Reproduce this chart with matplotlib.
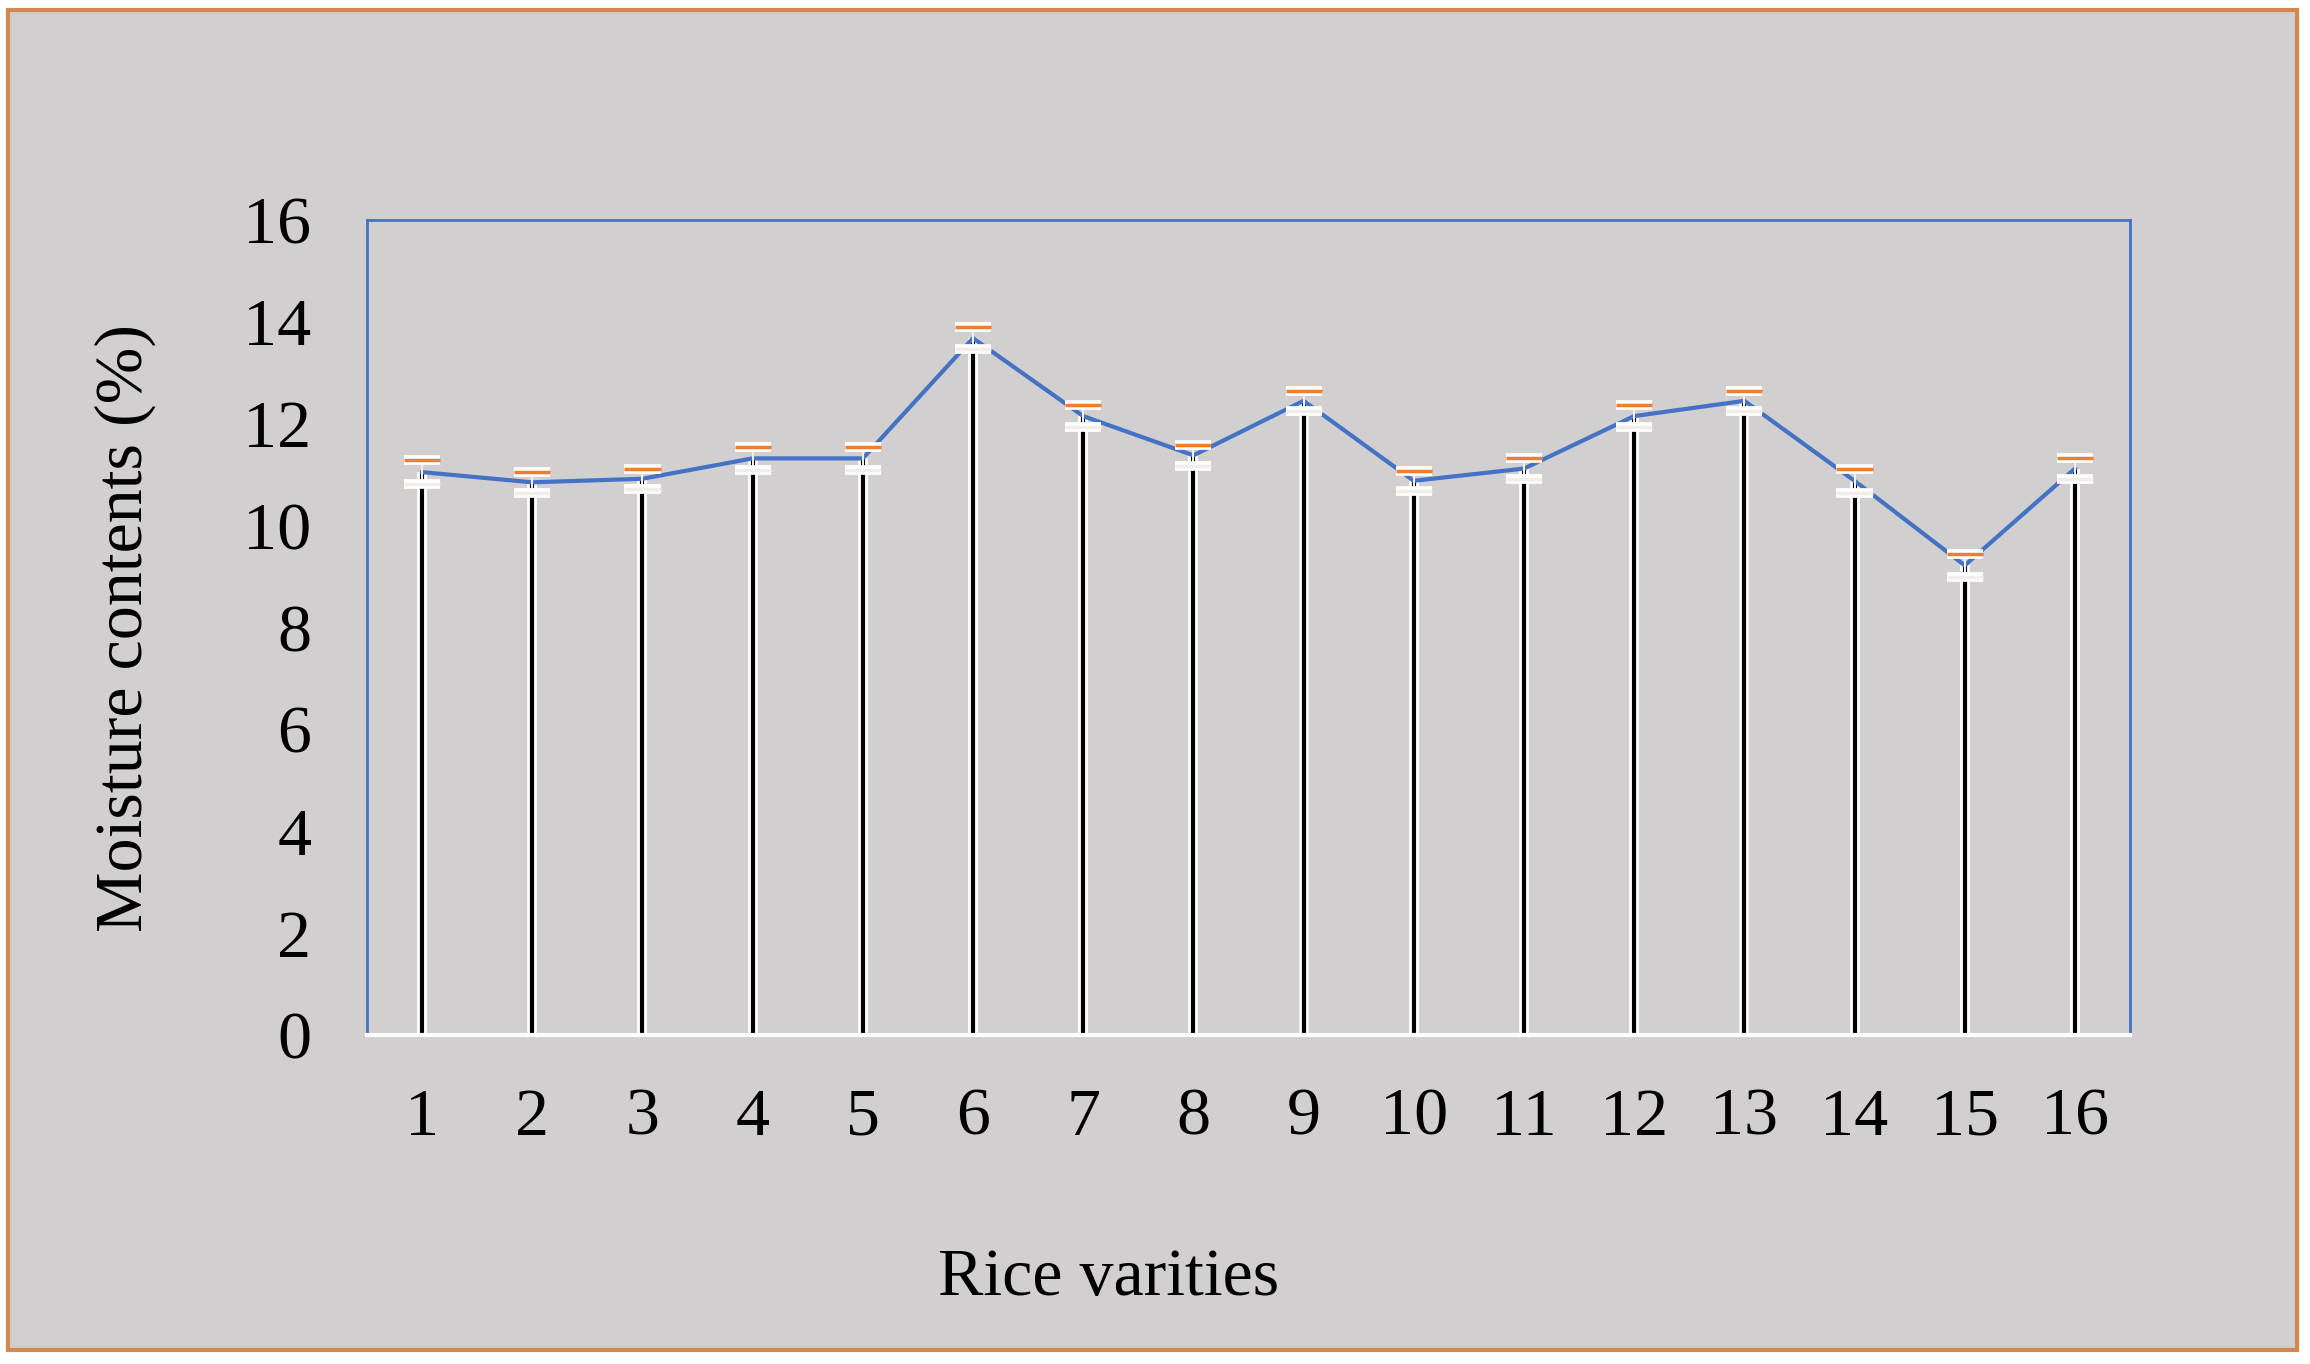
import matplotlib
matplotlib.use("Agg")
import numpy as np
from matplotlib import pyplot as plt
from matplotlib import patheffects as pe
from matplotlib.patches import Rectangle

varieties = list(range(1, 17))
moisture = [11.05, 10.85, 10.92, 11.32, 11.32, 13.68, 12.15, 11.38, 12.45,
            10.88, 11.12, 12.15, 12.45, 10.88, 9.22, 11.12]
moisture_err = [0.24, 0.2, 0.2, 0.22, 0.22, 0.22, 0.22, 0.2, 0.2,
                0.2, 0.2, 0.22, 0.2, 0.24, 0.22, 0.2]
y_ticks = [0, 2, 4, 6, 8, 10, 12, 14, 16]

grey = '#d1cfcf'
blue = '#4472c4'
orange = '#ed7d31'
serif = ['Liberation Serif', 'DejaVu Serif']
fs = 49

fig = plt.figure(figsize=(23.1, 13.64), dpi=100, facecolor='white')
# outer frame of the chart area
fig.patches.append(Rectangle((8 / 2310, 14 / 1364), 2289 / 2310, 1340 / 1364,
                             transform=fig.transFigure, facecolor=grey,
                             edgecolor='#d4874f', linewidth=3, zorder=-1))

ax = fig.add_axes([367 / 2310, 1 - 1035 / 1364, 1763 / 2310, 815 / 1364])
ax.set_zorder(1)
ax.set_facecolor(grey)

x = np.array(varieties)
glow = [pe.Stroke(linewidth=7, foreground='white'), pe.Normal()]
stems = ax.vlines(x, 0, moisture, color='black', linewidth=3, zorder=2)
stems.set_path_effects(glow)
ax.plot(x, moisture, color=blue, linewidth=3, zorder=3)
eb = ax.errorbar(x, moisture, yerr=moisture_err, fmt='none', ecolor='#f4eee9',
                 elinewidth=1.5, capsize=13, capthick=2.5, zorder=4)
lower_caps, upper_caps = eb[1]
lower_caps.set_markeredgecolor('#f4ece6')
upper_caps.set_markeredgecolor(orange)
for cap in eb[1]:
    cap.set_path_effects([pe.Stroke(linewidth=7, foreground='white'), pe.Normal()])

ax.set_xlim(0.5, 16.5)
ax.set_ylim(0, 16)
ax.set_xticks(x)
ax.set_xticklabels([str(v) for v in varieties])
ax.set_yticks(y_ticks)
ax.tick_params(axis='both', length=0, labelsize=fs)
ax.tick_params(axis='y', pad=40)
ax.tick_params(axis='x', pad=38)
for lab in ax.get_xticklabels() + ax.get_yticklabels():
    lab.set_family(serif)

for side in ['left', 'top', 'right']:
    ax.spines[side].set_color(blue)
    ax.spines[side].set_linewidth(2)
ax.spines['bottom'].set_color('white')
ax.spines['bottom'].set_linewidth(3)

ax.set_xlabel('Rice varities', fontsize=fs, family=serif)
ax.xaxis.set_label_coords((1109 - 367) / 1763, (1035 - 1279) / 815)
ax.xaxis.label.set_va('center')
ax.set_ylabel('Moisture contents (%)', fontsize=fs, family=serif)
ax.yaxis.set_label_coords((125 - 367) / 1763, 0.5)
ax.yaxis.label.set_va('center')

fig.savefig('out.png', dpi=100, facecolor=fig.get_facecolor())
